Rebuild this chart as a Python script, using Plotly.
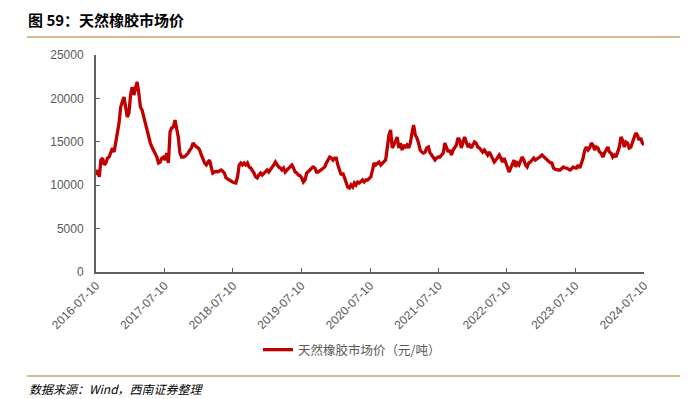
import pandas as pd
import plotly.graph_objects as go

start_date = "2016-07-10"
end_date = "2024-07-10"

prices = [
    11175, 11750, 10950, 12900, 13130, 12330, 12560, 13130, 13250, 13700, 14290, 13820, 14980, 16000,
    17160, 19000, 19470, 20160, 19000, 17860, 18300, 20390, 21310, 20390, 21200, 21890, 20620, 19000,
    18660, 17860, 17160, 16360, 15550, 14860, 14400, 14050, 13700, 13250, 12560, 12670, 13130, 13250,
    12900, 13700, 12560, 16130, 16590, 16700, 17510, 16700, 15550, 13700, 13250, 13250, 13300, 13500,
    13700, 14050, 14300, 14860, 14600, 14400, 14300, 14050, 13480, 12900, 12560, 12330, 12670, 12900,
    12100, 11400, 11520, 11600, 11520, 11650, 11750, 11600, 11400, 10830, 10700, 10600, 10500, 10370,
    10300, 10250, 10950, 12330, 12560, 12330, 12560, 12330, 12560, 12100, 11980, 11750, 11400, 10950,
    10830, 11170, 11400, 11170, 11400, 11520, 11750, 11520, 11750, 11980, 12330, 12670, 12330, 12100,
    11980, 11750, 11980, 11520, 11750, 11980, 12100, 12330, 11980, 11520, 11400, 11170, 11100,
    10830, 10370, 10600, 11400, 11520, 11750, 11980, 12100, 11980, 11520, 11520, 11640, 11750, 11980,
    12100, 12560, 12900, 13250, 13130, 12900, 13130, 13130, 12330, 11750, 11170, 11400, 10830, 10250,
    9790, 9680, 10020, 9790, 10250, 10020, 10370, 10250, 10370, 10600, 10370, 10600, 10600, 10830,
    10950, 11750, 12560, 12330, 12560, 12670, 12330, 12560, 12670, 12900, 14290, 15780, 16360, 14290,
    14630, 15200, 15550, 14290, 14860, 14050, 14630, 14400, 14630, 14290, 14860, 16020, 16930, 15780,
    15440, 14860, 14050, 13820, 13700, 13820, 14290, 14400, 13700, 13480, 13130, 12900, 13130, 13250,
    13250, 13480, 13700, 14860, 14290, 13820, 14050, 13480, 14050, 14400, 14630, 15440, 15210, 14290,
    14860, 15550, 14980, 14400, 14630, 14290, 14630, 14980, 14860, 14400, 14290, 14050, 13820, 14050,
    13700, 13480, 13820, 13480, 13130, 12670, 12900, 13250, 13480, 13130, 12670, 13130, 12560, 12100,
    11520, 11980, 12560, 12900, 12100, 12560, 12330, 12900, 13250, 12900, 12330, 12100, 12560, 12670,
    12900, 13130, 12900, 13000, 13130, 13300, 13480, 13300, 13130, 12900, 12670, 12600, 12560, 11980,
    11850, 11750, 11750, 11750, 11900, 12100, 12000, 11980, 11850, 11750, 11900, 12100, 12000, 11980,
    12330, 11980, 12560, 13130, 14050, 14400, 14050, 14290, 14860, 14630, 14050, 14400, 14290, 13820,
    13700, 13250, 13700, 14050, 14400, 13820, 13700, 13250, 13480, 13250, 13820, 14400, 15550, 15210,
    14400, 14980, 14860, 14290, 14400, 14980, 15440, 16020, 15780, 15210, 15440, 14860, 14630,
]

dates = pd.date_range(start=start_date, end=end_date, periods=len(prices))
tick_dates = [f"{y}-07-10" for y in range(2016, 2025)]
y_ticks = [0, 5000, 10000, 15000, 20000, 25000]
y_tick_text = [str(v) for v in y_ticks]

title_text = "图 59：天然橡胶市场价"
legend_name = "天然橡胶市场价（元/吨）"
source_text = "数据来源：Wind，西南证券整理"

gray = "#595959"
axis_color = "#5f5f5f"
line_color = "#C00000"
rule_color = "#C9A46E"

fig = go.Figure()
fig.add_trace(go.Scatter(
    x=dates, y=prices, mode="lines", name=legend_name,
    line=dict(color=line_color, width=3.3), showlegend=True,
))

W, H = 695, 399
L, R, T, B = 96, 51, 55, 127
pw, ph = W - L - R, H - T - B

def px(x):
    return (x - L) / pw

def py(y):
    return (H - B - y) / ph

fig.update_layout(
    width=W, height=H,
    margin=dict(l=L, r=R, t=T, b=B, pad=0),
    paper_bgcolor="white", plot_bgcolor="white",
    font=dict(family="Liberation Sans, Arial, Noto Sans CJK SC", color=gray, size=12),
    showlegend=True,
    legend=dict(
        orientation="h", x=px(352), y=py(350), xanchor="center", yanchor="middle",
        font=dict(family="Noto Sans CJK SC", size=12.5, color=gray),
        itemwidth=30, bgcolor="rgba(0,0,0,0)",
    ),
    xaxis=dict(
        range=[start_date, end_date], tickmode="array", tickvals=tick_dates, ticktext=tick_dates,
        tickangle=-45, ticks="inside", ticklen=4, tickcolor=axis_color, tickwidth=1,
        showline=True, linecolor=axis_color, linewidth=2, showgrid=False, zeroline=False,
        tickfont=dict(size=12, color=gray),
    ),
    yaxis=dict(
        range=[0, 25000], tickmode="array", tickvals=y_ticks, ticktext=y_tick_text,
        ticks="inside", ticklen=4, tickcolor=axis_color, tickwidth=1,
        showline=True, linecolor=axis_color, linewidth=2, showgrid=False, zeroline=False,
        tickfont=dict(size=12, color=gray), ticklabelstandoff=8,
    ),
    shapes=[
        dict(type="line", xref="paper", yref="paper", x0=px(27), x1=px(680), y0=py(37), y1=py(37),
             line=dict(color=rule_color, width=1.5)),
        dict(type="line", xref="paper", yref="paper", x0=px(27), x1=px(680), y0=py(376), y1=py(376),
             line=dict(color=rule_color, width=1.5)),
    ],
    annotations=[
        dict(text=f"<b>{title_text}</b>", xref="paper", yref="paper", x=px(26), y=py(20),
             xanchor="left", yanchor="middle", showarrow=False,
             font=dict(family="Noto Sans CJK SC", size=15, color="#000000")),
        dict(text=f"<i>{source_text}</i>", xref="paper", yref="paper", x=px(27), y=py(388),
             xanchor="left", yanchor="middle", showarrow=False,
             font=dict(family="Noto Sans CJK SC", size=12, color="#000000")),
    ],
)

fig.write_html(
    "out.html",
    config={"displayModeBar": False},
    post_script="document.body.style.margin='0px';document.body.style.overflow='hidden';",
)
